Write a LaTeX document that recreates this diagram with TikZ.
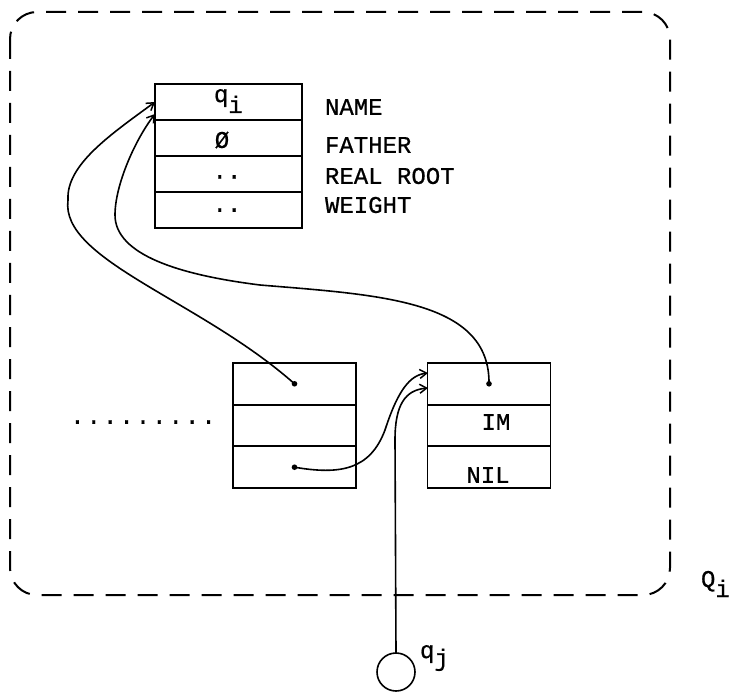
\documentclass[tikz,border=0pt]{standalone}
\usepackage{fontspec}
\setmainfont[FakeBold=0.7]{Liberation Mono}
\usetikzlibrary{arrows.meta}
\begin{document}
\begin{tikzpicture}[x=1pt,y=-1pt,
  every node/.style={font=\fontsize{24}{28}\selectfont, inner sep=0pt, outer sep=0pt},
  topcell/.style={draw, line width=1.8pt, minimum width=147pt, minimum height=36pt},
  midcell/.style={draw, line width=1.8pt, minimum width=123pt, minimum height=41.7pt},
  link/.style={line width=1.6pt, -{Straight Barb[length=7pt,width=9pt,line width=1.5pt]}},
  ptr/.style={fill=black},
  border/.style={line width=2pt, dash pattern=on 20pt off 12pt, rounded corners=27pt},
  lbl/.style={anchor=west}]
\useasboundingbox (0,0) rectangle (730,692);

% dashed region Q_i
\draw[border] (10,12) rectangle (670,595);
\node[anchor=base west] (Qi) at (701,587) {Q\raisebox{-10pt}{i}};

% top record
\node[topcell] (t1) at (228.5,102) {};
\node[topcell] (t2) at (228.5,138) {};
\node[topcell] (t3) at (228.5,174) {};
\node[topcell] (t4) at (228.5,210) {};
\node[anchor=base west] (tq) at (214,102) {q\raisebox{-11pt}{i}};
\node (tz) at (222,140) {Ø};
\node (td3) at (227,177) {..};
\node (td4) at (227,210) {..};
\node[lbl] (n1) at (325,107) {NAME};
\node[lbl] (n2) at (325,145) {FATHER};
\node[lbl] (n3) at (325,176) {REAL ROOT};
\node[lbl] (n4) at (325,205) {WEIGHT};

% left middle record
\node[midcell] (l1) at (294.5,383.8) {};
\node[midcell] (l2) at (294.5,425.5) {};
\node[midcell] (l3) at (294.5,467.2) {};
% right middle record
\node[midcell] (r1) at (489,383.8) {};
\node[midcell] (r2) at (489,425.5) {};
\node[midcell] (r3) at (489,467.2) {};
\node (im) at (496,422) {IM};
\node (nil) at (488,475) {NIL};

% dotted row
\node (dots) at (143,422) {.\kern2pt.\kern2pt.\kern2pt.\kern2pt.\kern2pt.\kern2pt.\kern2pt.\kern2pt.};

% pointer dots
\fill[ptr] (l1.center) circle (2.8pt);
\fill[ptr] (l3.center) circle (2.8pt);
\fill[ptr] (r1.center) circle (2.8pt);

% arrow targets
\coordinate (a1) at (155,102);
\coordinate (a2) at (155,114);
\coordinate (a3) at (428,373);
\coordinate (a4) at (428,388);

% q_j
\node[draw, circle, line width=1.6pt, minimum size=38pt] (qj) at (396,672) {};
\node[anchor=base west] (qjl) at (420,658) {q\raisebox{-8pt}{j}};

% connectors
\draw[link] (l1.center) .. controls (200,300) and (60,260) .. (68,200)
  .. controls (66,165) and (110,135) .. (a1);
\draw[link] (r1.center) .. controls (490,300) and (380,295) .. (260,285)
  .. controls (180,275) and (115,255) .. (115,215)
  .. controls (115,185) and (135,140) .. (a2);
\draw[link] (l3.center) .. controls (340,475) and (370,470) .. (385,430)
  .. controls (398,390) and (410,375) .. (a3);
\draw[link] (qj.north) -- (395,440) .. controls (395,405) and (405,390) .. (a4);
\end{tikzpicture}
\end{document}
